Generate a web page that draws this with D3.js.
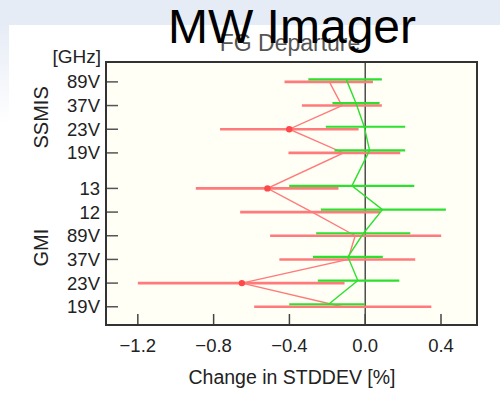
<html>
  <head>
    <meta charset="utf-8">
    <script src='https://d3js.org/d3.v7.min.js'></script>
    <style>
      body { margin: 0; background: #fff; }
      text { font-family: 'Liberation Sans', Arial, sans-serif; }
    </style>
  </head>
  <body>
    <svg width=500 height=417></svg>
    <script>
      // channels, bottom to top; pos is the slot on the y axis
      const LABELS = ['19V', '23V', '37V', '89V', '12', '13', '19V', '23V', '37V', '89V'];
      const POS = [0, 1, 2, 3, 4, 5, 6.5, 7.5, 8.5, 9.5];

      // red run: centre, low, high
      const RED_MID = [-0.12, -0.651, -0.091, -0.053, -0.28, -0.516, -0.115, -0.401, -0.123, -0.189];
      const RED_LO = [-0.586, -1.2, -0.453, -0.502, -0.66, -0.894, -0.405, -0.766, -0.334, -0.426];
      const RED_HI = [0.349, -0.109, 0.264, 0.401, 0.079, -0.141, 0.185, -0.035, 0.088, 0.041];
      const RED_SIG = [false, true, false, false, false, true, false, true, false, false];

      // green run
      const GRN_MID = [-0.193, -0.039, -0.091, -0.009, 0.091, -0.07, 0.023, -0.005, -0.049, -0.1];
      const GRN_LO = [-0.401, -0.25, -0.276, -0.259, -0.234, -0.401, -0.162, -0.208, -0.173, -0.3];
      const GRN_HI = [0.0, 0.18, 0.093, 0.238, 0.426, 0.259, 0.211, 0.211, 0.076, 0.088];

      const X_TICKS = [-1.2, -0.8, -0.4, 0.0, 0.4];

      const svg = d3.select('svg');

      // slide background
      const defs = svg.append('defs');
      const g1 = defs.append('linearGradient').attr('id', 'side').attr('x1', 0).attr('y1', 0).attr('x2', 0).attr('y2', 1);
      g1.append('stop').attr('offset', 0).attr('stop-color', '#e6ecf6');
      g1.append('stop').attr('offset', 1).attr('stop-color', '#ffffff');
      svg.append('rect').attr('x', 0).attr('y', 0).attr('width', 500).attr('height', 25).attr('fill', '#e6ecf6');
      svg.append('rect').attr('x', 0).attr('y', 25).attr('width', 9).attr('height', 100).attr('fill', 'url(#side)');

      const pl = 106, pr = 477, pt = 62, pb = 325;

      const x = d3.scaleLinear().domain([-1.368, 0.59]).range([pl, pr]);
      const y = d3.scaleLinear().domain([-0.77, 10.34]).range([pb, pt]);

      svg.append('rect').attr('x', pl).attr('y', pt).attr('width', pr - pl).attr('height', pb - pt)
        .attr('fill', '#fffff6');

      // zero line
      svg.append('line').attr('x1', x(0)).attr('x2', x(0)).attr('y1', pt).attr('y2', pb)
        .attr('stroke', '#333').attr('stroke-width', 1.3);

      const idx = d3.range(LABELS.length);

      function drawRun(mid, lo, hi, color, dy, barW, lineW) {
        const g = svg.append('g');
        g.selectAll('line.bar').data(idx).enter().append('line')
          .attr('x1', i => x(lo[i])).attr('x2', i => x(hi[i]))
          .attr('y1', i => y(POS[i]) + dy).attr('y2', i => y(POS[i]) + dy)
          .attr('stroke', color).attr('stroke-width', barW);
        g.append('path')
          .attr('d', d3.line().x(i => x(mid[i])).y(i => y(POS[i]) + dy)(idx))
          .attr('fill', 'none').attr('stroke', color).attr('stroke-width', lineW);
        return g;
      }

      drawRun(RED_MID, RED_LO, RED_HI, '#ff7b7b', 0, 2.6, 1.4);
      drawRun(GRN_MID, GRN_LO, GRN_HI, '#2ee02e', -2.5, 2.2, 1.4);

      svg.selectAll('circle.sig').data(idx.filter(i => RED_SIG[i])).enter().append('circle')
        .attr('cx', i => x(RED_MID[i])).attr('cy', i => y(POS[i])).attr('r', 3.2)
        .attr('fill', '#ff4848');

      // ticks
      svg.selectAll('line.xt').data(X_TICKS).enter().append('line')
        .attr('x1', d => x(d)).attr('x2', d => x(d)).attr('y1', pb).attr('y2', pb - 11)
        .attr('stroke', '#444').attr('stroke-width', 1.5);
      svg.selectAll('text.xt').data(X_TICKS).enter().append('text')
        .attr('x', d => x(d)).attr('y', 352).attr('text-anchor', 'middle')
        .attr('font-size', 18.5).attr('fill', '#222')
        .text(d => d3.format('.1f')(d).replace('-', '\u2212'));

      svg.selectAll('line.yt').data(POS).enter().append('line')
        .attr('x1', pl).attr('x2', pl + 12).attr('y1', d => y(d)).attr('y2', d => y(d))
        .attr('stroke', '#555').attr('stroke-width', 1.5);
      svg.selectAll('text.yt').data(idx).enter().append('text')
        .attr('x', 100).attr('y', i => y(POS[i]) + 6.5).attr('text-anchor', 'end')
        .attr('font-size', 18.5).attr('fill', '#222')
        .text(i => LABELS[i]);

      // frame
      svg.append('rect').attr('x', pl).attr('y', pt).attr('width', pr - pl).attr('height', pb - pt)
        .attr('fill', 'none').attr('stroke', '#333').attr('stroke-width', 2);

      svg.append('text').attr('x', 101).attr('y', 63).attr('text-anchor', 'end')
        .attr('font-size', 19).attr('fill', '#222').text('[GHz]');

      svg.append('text').attr('transform', 'translate(48,' + ((y(6.5) + y(9.5)) / 2) + ') rotate(-90)')
        .attr('text-anchor', 'middle').attr('font-size', 20).attr('fill', '#222').text('SSMIS');
      svg.append('text').attr('transform', 'translate(48,' + ((y(0) + y(5)) / 2) + ') rotate(-90)')
        .attr('text-anchor', 'middle').attr('font-size', 20).attr('fill', '#222').text('GMI');

      svg.append('text').attr('x', 292).attr('y', 384).attr('text-anchor', 'middle')
        .attr('font-size', 19.5).attr('fill', '#222').text('Change in STDDEV [%]');

      // titles
      svg.append('text').attr('x', 290).attr('y', 51).attr('text-anchor', 'middle')
        .attr('font-size', 23).attr('fill', '#555').text('FG Departure');
      svg.append('text').attr('x', 292).attr('y', 43).attr('text-anchor', 'middle')
        .attr('font-size', 48).attr('fill', '#000').text('MW Imager');
    </script>
  </body>
</html>
